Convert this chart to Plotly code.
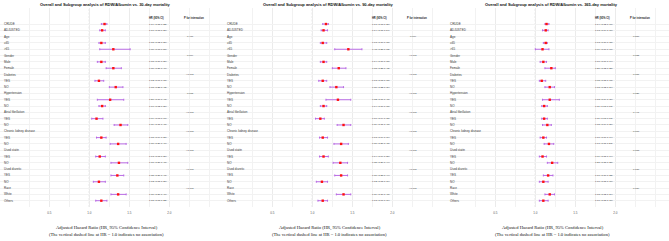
import plotly.graph_objects as go
from plotly.subplots import make_subplots

row_labels = ["CRUDE", "ADJUSTED", "Age", "≤65", ">65", "Gender", "Male", "Female",
              "Diabetes", "YES", "NO", "Hypertension", "YES", "NO",
              "Atrial fibrillation", "YES", "NO", "Chronic kidney disease", "YES", "NO",
              "Used statin", "YES", "NO", "Used diuretic", "YES", "NO",
              "Race", "White", "Others"]
header_rows = [2, 5, 8, 11, 14, 17, 20, 23, 26]
est_rows = [0, 1, 3, 4, 6, 7, 9, 10, 12, 13, 15, 16, 18, 19, 21, 22, 24, 25, 27, 28]

titles = ["Overall and Subgroup analysis of RDW/Albumin vs. 30-day mortality",
          "Overall and Subgroup analysis of RDW/Albumin vs. 90-day mortality",
          "Overall and Subgroup analysis of RDW/Albumin vs. 365-day mortality"]

hr30 = [1.19, 1.16, 1.15, 1.30, 1.15, 1.30, 1.12, 1.33, 1.26, 1.16, 1.09, 1.39, 1.15, 1.36, 1.13, 1.37, 1.35, 1.12, 1.36, 1.15]
lo30 = [1.15, 1.13, 1.12, 1.13, 1.10, 1.21, 1.07, 1.25, 1.10, 1.12, 1.03, 1.31, 1.09, 1.26, 1.08, 1.27, 1.27, 1.05, 1.27, 1.08]
hi30 = [1.22, 1.20, 1.20, 1.51, 1.20, 1.40, 1.18, 1.42, 1.43, 1.20, 1.17, 1.48, 1.21, 1.46, 1.20, 1.48, 1.43, 1.20, 1.46, 1.22]
p30 = ["0.400", "0.004", "<0.001", "0.068", "<0.001", "<0.001", "<0.001", "<0.001", "<0.001"]

hr90 = [1.17, 1.14, 1.13, 1.45, 1.14, 1.33, 1.13, 1.30, 1.32, 1.14, 1.10, 1.39, 1.13, 1.36, 1.14, 1.35, 1.36, 1.12, 1.39, 1.13]
lo90 = [1.13, 1.11, 1.10, 1.28, 1.10, 1.25, 1.08, 1.22, 1.17, 1.10, 1.04, 1.31, 1.09, 1.27, 1.09, 1.26, 1.28, 1.05, 1.30, 1.07]
hi90 = [1.20, 1.19, 1.18, 1.62, 1.18, 1.42, 1.18, 1.39, 1.48, 1.18, 1.15, 1.48, 1.19, 1.45, 1.20, 1.44, 1.44, 1.19, 1.48, 1.19]
p90 = ["0.004", "<0.001", "<0.001", "<0.001", "<0.001", "<0.001", "<0.001", "<0.001", "<0.001"]

hr365 = [1.14, 1.13, 1.13, 1.09, 1.10, 1.20, 1.08, 1.18, 1.18, 1.11, 1.11, 1.15, 1.10, 1.17, 1.09, 1.21, 1.16, 1.10, 1.18, 1.10]
lo365 = [1.12, 1.09, 1.10, 1.00, 1.06, 1.12, 1.05, 1.12, 1.09, 1.08, 1.08, 1.09, 1.06, 1.11, 1.05, 1.15, 1.10, 1.05, 1.12, 1.05]
hi365 = [1.17, 1.16, 1.15, 1.17, 1.14, 1.25, 1.13, 1.24, 1.30, 1.15, 1.15, 1.20, 1.14, 1.23, 1.14, 1.28, 1.22, 1.16, 1.24, 1.16]
p365 = ["0.810", "0.085", "0.087", "0.026", "0.447", "0.060", "0.083", "0.180", "0.689"]

x_ticks = [0.5, 1.0, 1.5, 2.0]
x_minor = [0.25, 0.75, 1.25, 1.75, 2.25, 2.5]

panels = [(hr30, lo30, hi30, p30), (hr90, lo90, hi90, p90), (hr365, lo365, hi365, p365)]

XR = [-0.116, 2.67]
YR = [29.0, -2.54]
LABEL_X = -0.095
HR_X = 1.715
P_X = 2.16

fig = make_subplots(rows=1, cols=3, horizontal_spacing=0)
ann = []
shapes = []
label_col = "#3a3a3a"
for i, (hr, lo, hi, pv) in enumerate(panels):
    col = i + 1
    xa = "x" if col == 1 else f"x{col}"
    ya = "y" if col == 1 else f"y{col}"
    shapes.append(dict(type="line", xref=xa, yref=f"{ya} domain", x0=1, x1=1, y0=0, y1=1,
                       layer="below",
                       line=dict(color="#9a9a9a", width=0.6, dash="2px,1.5px")))
    fig.add_trace(go.Scatter(
        x=hr, y=est_rows, mode="markers",
        marker=dict(color="#ff1010", size=2.4, symbol="square"),
        error_x=dict(type="data", symmetric=False,
                     array=[h - p for h, p in zip(hi, hr)],
                     arrayminus=[p - l for p, l in zip(hr, lo)],
                     color="#b35ee3", thickness=0.9, width=1.0),
        showlegend=False, hoverinfo="skip"), row=1, col=col)
    fig.update_xaxes(range=XR, tickvals=x_ticks, ticktext=[f"{v:.1f}" for v in x_ticks],
                     tickfont=dict(size=3, color="#555555", family="Liberation Sans"),
                     showgrid=True, gridcolor="#ebebeb", gridwidth=0.5, zeroline=False,
                     showline=False, ticks="", ticklabelstandoff=3,
                     minor=dict(tickvals=x_minor, showgrid=True, gridcolor="#f2f2f2", gridwidth=0.5),
                     row=1, col=col)
    fig.update_yaxes(range=YR, tickvals=list(range(len(row_labels))), showticklabels=False,
                     showgrid=True, gridcolor="#f2f2f2", gridwidth=0.5, zeroline=False,
                     showline=False, ticks="", row=1, col=col)
    for r, lab in enumerate(row_labels):
        ann.append(dict(xref=xa, yref=ya, x=LABEL_X, y=r, text=lab, showarrow=False,
                        xanchor="left", yanchor="middle",
                        font=dict(size=3, color=label_col, family="Liberation Sans")))
    for k, r in enumerate(est_rows):
        ann.append(dict(xref=xa, yref=ya, x=HR_X, y=r,
                        text=f"{hr[k]:.2f} ({lo[k]:.2f}-{hi[k]:.2f})", showarrow=False,
                        xanchor="left", yanchor="middle",
                        font=dict(size=2.5, color=label_col, family="Liberation Sans")))
    for k, r in enumerate(header_rows):
        ann.append(dict(xref=xa, yref=ya, x=P_X + 0.1, y=r, text=pv[k], showarrow=False,
                        xanchor="center", yanchor="middle",
                        font=dict(size=2.5, color=label_col, family="Liberation Sans")))
    ann.append(dict(xref=xa, yref=ya, x=HR_X, y=-1, text="<b>HR (95% CI)</b>", showarrow=False,
                    xanchor="left", yanchor="middle",
                    font=dict(size=2.6, color="#222222", family="Liberation Sans")))
    ann.append(dict(xref=xa, yref=ya, x=P_X, y=-1, text="<b>P for interaction</b>", showarrow=False,
                    xanchor="left", yanchor="middle",
                    font=dict(size=2.6, color="#222222", family="Liberation Sans")))
    ann.append(dict(xref=f"{xa} domain", yref="paper", x=0.473, y=1.016, text=f"<b>{titles[i]}</b>",
                    showarrow=False, xanchor="center", yanchor="middle",
                    font=dict(size=4, color="#111111", family="Liberation Sans")))
    ann.append(dict(xref=f"{xa} domain", yref="paper", x=0.478, y=-0.1055,
                    text="Adjusted Hazard Ratio (HR, 95% Confidence Interval)",
                    showarrow=False, xanchor="center", yanchor="middle",
                    font=dict(size=4.6, color="#111111", family="Liberation Serif")))
    ann.append(dict(xref=f"{xa} domain", yref="paper", x=0.478, y=-0.136,
                    text="(The vertical dashed line at HR = 1.0 indicates no association)",
                    showarrow=False, xanchor="center", yanchor="middle",
                    font=dict(size=4.6, color="#111111", family="Liberation Serif")))

fig.update_layout(width=669, height=241, margin=dict(l=0, r=0, t=8, b=34),
                  paper_bgcolor="white", plot_bgcolor="white",
                  annotations=ann, shapes=shapes)
fig.write_html("out.html")
